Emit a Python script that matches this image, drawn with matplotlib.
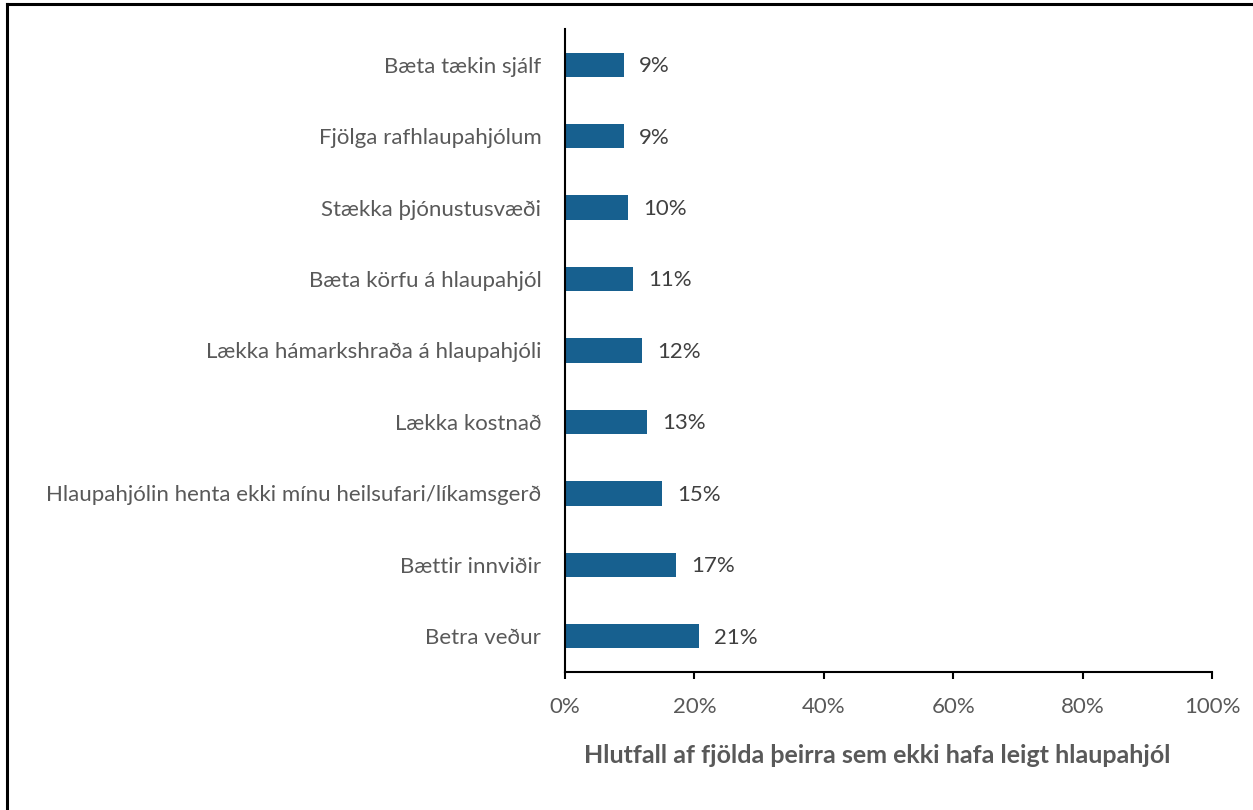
import matplotlib.pyplot as plt
from matplotlib.lines import Line2D
from matplotlib.ticker import PercentFormatter

# Hvað myndi fá fólk til að leigja hlaupahjól
flokkar = ["Betra veður", "Bættir innviðir",
           "Hlaupahjólin henta ekki mínu heilsufari/líkamsgerð", "Lækka kostnað",
           "Lækka hámarkshraða á hlaupahjóli", "Bæta körfu á hlaupahjól",
           "Stækka þjónustusvæði", "Fjölga rafhlaupahjólum", "Bæta tækin sjálf"]
hlutfall = [20.7, 17.2, 15.0, 12.7, 11.9, 10.5, 9.7, 9.1, 9.1]
merki = ["21%", "17%", "15%", "13%", "12%", "11%", "10%", "9%", "9%"]
x_ticks = [0, 20, 40, 60, 80, 100]

plt.rcParams['font.family'] = ['Lato', 'DejaVu Sans']
grar = '#595959'

fig = plt.figure(figsize=(12.53, 8.10), dpi=100)
ax = fig.add_axes([0.4509, 0.1704, 0.5164, 0.7938])

y = range(len(flokkar))
ax.barh(y, hlutfall, height=0.34, color='#17608f')
for i, (v, m) in enumerate(zip(hlutfall, merki)):
    ax.annotate(m, (v, i), xytext=(11, -1), textcoords='offset points',
                va='center', ha='left', fontsize=16, color='#404040')

ax.set_xlim(0, 100)
ax.set_ylim(-0.5, len(flokkar) - 0.5)
ax.set_xticks(x_ticks)
ax.xaxis.set_major_formatter(PercentFormatter(decimals=0))
ax.set_yticks(list(y))
ax.set_yticklabels(flokkar)
ax.tick_params(axis='y', length=0, pad=17, labelsize=16, labelcolor=grar)
ax.tick_params(axis='x', length=5, width=1.5, direction='out', pad=13,
               labelsize=16, labelcolor=grar)
for s in ['top', 'right']:
    ax.spines[s].set_visible(False)
for s in ['left', 'bottom']:
    ax.spines[s].set_linewidth(1.5)
ax.set_xlabel("Hlutfall af fjölda þeirra sem ekki hafa leigt hlaupahjól",
              fontsize=18, fontweight='bold', color=grar, labelpad=15)
ax.xaxis.set_label_coords(0.482, -0.112)

# rammi vinstra megin og efst
fig.add_artist(Line2D([7 / 1253, 7 / 1253], [0, 1 - 4 / 810], color='black', lw=2.2))
fig.add_artist(Line2D([7 / 1253, 1], [1 - 4 / 810, 1 - 4 / 810], color='black', lw=2.2))

fig.savefig('out.png', dpi=100)
